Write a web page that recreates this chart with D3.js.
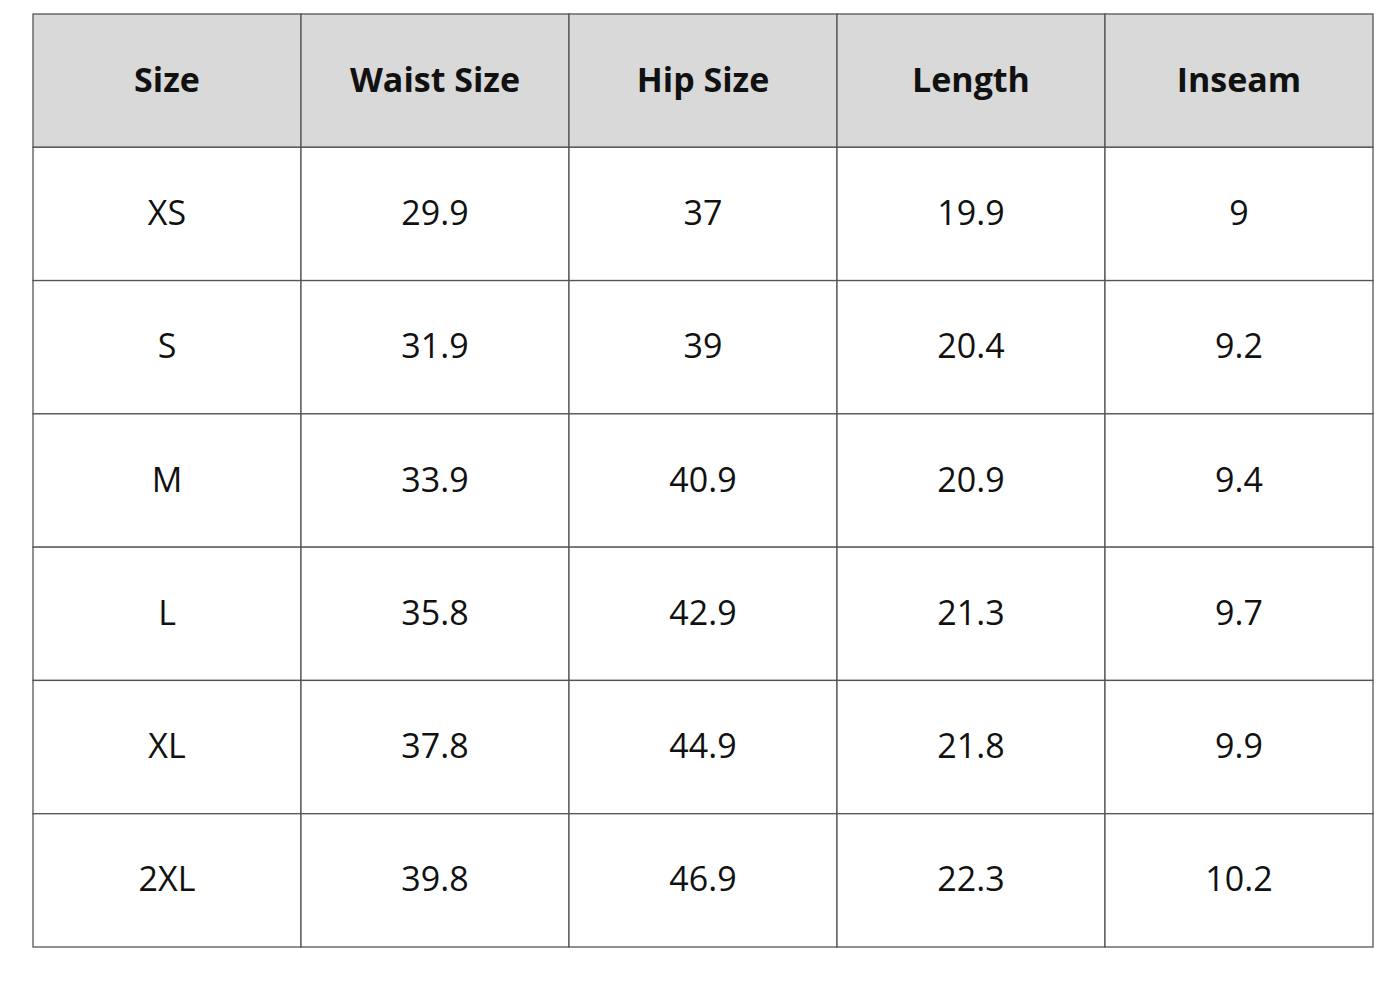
<!DOCTYPE html>
<html><head><meta charset="utf-8">
<script src="https://cdn.jsdelivr.net/npm/d3@7"></script>
<style>body{margin:0;background:#fff}</style></head>
<body><script>
const headers = ["Size","Waist Size","Hip Size","Length","Inseam"];
const sizes = ["XS","S","M","L","XL","2XL"];
const waist = ["29.9","31.9","33.9","35.8","37.8","39.8"];
const hip = ["37","39","40.9","42.9","44.9","46.9"];
const lengthV = ["19.9","20.4","20.9","21.3","21.8","22.3"];
const inseam = ["9","9.2","9.4","9.7","9.9","10.2"];
const rows = sizes.map((s,i)=>[s,waist[i],hip[i],lengthV[i],inseam[i]]);

const svg = d3.select("body").append("svg").attr("width",1400).attr("height",1000);
const x = d3.scaleBand().domain(d3.range(5)).range([33,1373]);
const y = d3.scaleBand().domain(d3.range(7)).range([14,947]);
const all = [headers, ...rows];
all.forEach((r,ri)=>{
  r.forEach((v,ci)=>{
    svg.append("rect").attr("x",x(ci)).attr("y",y(ri)).attr("width",x.bandwidth()).attr("height",y.bandwidth())
      .attr("fill",ri===0?"#d9d9d9":"#fff").attr("stroke","#555").attr("stroke-width",1.3);
    svg.append("text").attr("x",x(ci)+x.bandwidth()/2).attr("y",y(ri)+y.bandwidth()/2-2)
      .attr("text-anchor","middle").attr("dominant-baseline","central")
      .attr("font-family","Open Sans, sans-serif").attr("font-size",34)
      .attr("font-weight",ri===0?"bold":"normal").attr("fill","#111").text(v);
  });
});
</script></body></html>
